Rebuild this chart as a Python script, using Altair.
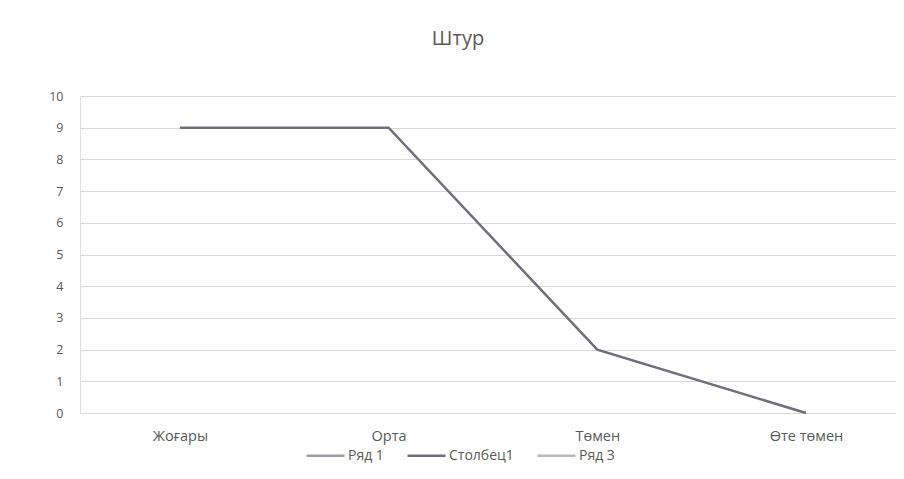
import altair as alt
import pandas as pd

categories = ["Жоғары", "Орта", "Төмен", "Өте төмен"]
values = [9, 9, 2, 0]
series_names = ["Ряд 1", "Столбец1", "Ряд 3"]
series_colors = ["#9d9da6", "#6f6f7c", "#b9b9c0"]
y_ticks = list(range(0, 11))

df = pd.DataFrame({"cat": categories, "val": values, "series": "Столбец1"})

FONT = "Open Sans"

chart = alt.Chart(df).mark_line(strokeWidth=2.5).encode(
    x=alt.X("cat:N", sort=categories,
            scale=alt.Scale(domain=categories, padding=0.455, align=0.526),
            axis=alt.Axis(title=None, labelAngle=0, ticks=False, domain=False,
                          grid=False, labelPadding=16, labelFontSize=14.5,
                          labelColor="#595959", labelFont=FONT)),
    y=alt.Y("val:Q", scale=alt.Scale(domain=[0, 10]),
            axis=alt.Axis(title=None, values=y_ticks, ticks=False, domain=False,
                          gridColor="#d9d9dc", gridWidth=1, labelPadding=17,
                          labelFontSize=12.5, labelColor="#595959", labelFont=FONT)),
    color=alt.Color("series:N",
                    scale=alt.Scale(domain=series_names, range=series_colors),
                    legend=alt.Legend(title=None, orient="none", direction="horizontal",
                                      legendX=225, legendY=339,
                                      symbolType="stroke", symbolStrokeWidth=2.5,
                                      symbolSize=1450, columnPadding=18,
                                      labelFontSize=14, labelColor="#595959",
                                      labelFont=FONT, labelOffset=2)),
).properties(
    width=816,
    height=317,
    title=alt.TitleParams("Штур", fontSize=20, font=FONT, fontWeight="normal",
                          color="#595959", anchor="middle", offset=41, dx=-30),
    autosize=alt.AutoSizeParams(type="none"),
    padding={"left": 72, "top": 88, "right": 0, "bottom": 60},
).configure_view(stroke=None).configure(background="white")

chart.save("out.html", embed_options={"renderer": "svg", "actions": False})
